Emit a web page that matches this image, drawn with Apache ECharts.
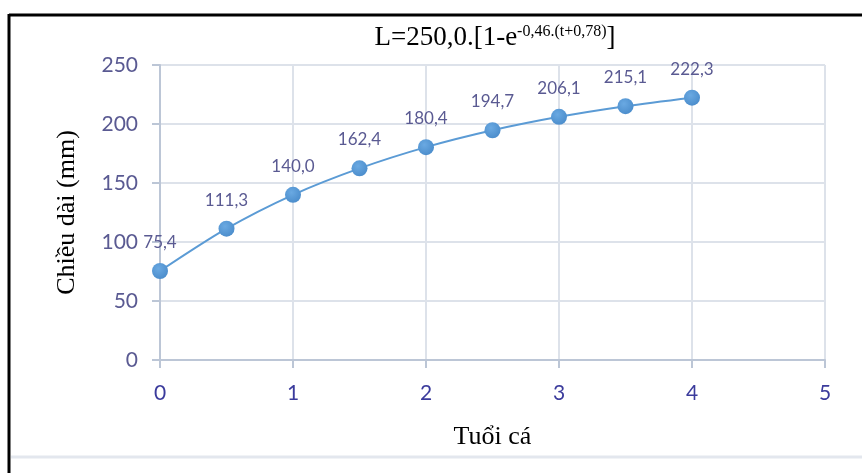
<!DOCTYPE html>
<html>
<head>
<meta charset="utf-8">
<script src="https://cdn.jsdelivr.net/npm/echarts@6/dist/echarts.min.js"></script>
<style>
  html, body { margin: 0; padding: 0; background: #ffffff; }
  #chart { width: 862px; height: 473px; }
</style>
</head>
<body>
<div id="chart"></div>
<script>
// Fish length by age (von Bertalanffy growth curve)
const ages = [0, 0.5, 1, 1.5, 2, 2.5, 3, 3.5, 4];
const lengths = [75.4, 111.3, 140.0, 162.4, 180.4, 194.7, 206.1, 215.1, 222.3];
const xTicks = [0, 1, 2, 3, 4, 5];
const yTicks = [0, 50, 100, 150, 200, 250];

const seriesData = ages.map((a, i) => [a, lengths[i]]);
const fmt = v => v.toFixed(1).replace('.', ',');

const chart = echarts.init(document.getElementById('chart'), null, { renderer: 'canvas' });

chart.setOption({
  animation: false,
  backgroundColor: '#ffffff',
  title: {
    text: '{m|L=250,0.[1-e}{s|-0,46.(t+0,78)}{m|]}',
    left: 490,
    top: 18,
    textAlign: 'center',
    textStyle: {
      fontWeight: 'normal',
      rich: {
        m: { fontFamily: 'Liberation Serif', fontSize: 27, fontWeight: 'normal', color: '#000000', lineHeight: 30 },
        s: { fontFamily: 'Liberation Serif', fontSize: 16, fontWeight: 'normal', color: '#000000', padding: [0, 0, 12, 0], lineHeight: 18 }
      }
    }
  },
  grid: { left: 160, right: 37, top: 65, bottom: 113, containLabel: false },
  xAxis: {
    type: 'value',
    min: xTicks[0],
    max: xTicks[xTicks.length - 1],
    interval: 1,
    name: 'Tuổi cá',
    nameLocation: 'middle',
    nameGap: 64,
    nameTextStyle: { fontFamily: 'Liberation Serif', fontSize: 26, color: '#000000' },
    axisLine: { show: true, lineStyle: { color: '#bcc6d6', width: 2 } },
    axisTick: { show: true, length: 8, lineStyle: { color: '#bcc6d6', width: 2 } },
    axisLabel: { margin: 23, fontFamily: 'Lato', fontSize: 21, color: '#3b3b9c' },
    splitLine: { show: true, lineStyle: { color: '#dde2ea', width: 2 } }
  },
  yAxis: {
    type: 'value',
    min: yTicks[0],
    max: yTicks[yTicks.length - 1],
    interval: 50,
    name: 'Chiều dài (mm)',
    nameLocation: 'middle',
    nameGap: 80,
    nameTextStyle: { fontFamily: 'Liberation Serif', fontSize: 26, color: '#000000' },
    axisLine: { show: true, lineStyle: { color: '#bcc6d6', width: 2 } },
    axisTick: { show: true, length: 8, lineStyle: { color: '#bcc6d6', width: 2 } },
    axisLabel: { margin: 22, fontFamily: 'Lato', fontSize: 21, color: '#5a5a92' },
    splitLine: { show: true, lineStyle: { color: '#dde2ea', width: 2 } }
  },
  series: [{
    type: 'line',
    data: seriesData,
    smooth: 0.3,
    symbol: 'circle',
    symbolSize: 16,
    lineStyle: { color: '#5b9bd5', width: 2 },
    itemStyle: {
      color: new echarts.graphic.RadialGradient(0.4, 0.35, 0.7, [
        { offset: 0, color: '#6aa9e2' },
        { offset: 1, color: '#4a8ccb' }
      ])
    },
    label: {
      show: true,
      position: 'top',
      distance: 12,
      fontFamily: 'Lato',
      fontSize: 17,
      color: '#5a5a92',
      formatter: p => fmt(p.value[1])
    }
  }],
  graphic: [
    { type: 'line', shape: { x1: 9, y1: 15, x2: 862, y2: 15 }, style: { stroke: '#000000', lineWidth: 3 } },
    { type: 'line', shape: { x1: 9, y1: 14, x2: 9, y2: 473 }, style: { stroke: '#000000', lineWidth: 3 } },
    { type: 'line', shape: { x1: 11, y1: 457, x2: 862, y2: 457 }, style: { stroke: '#e3e7ee', lineWidth: 3 } }
  ]
});
</script>
</body>
</html>
